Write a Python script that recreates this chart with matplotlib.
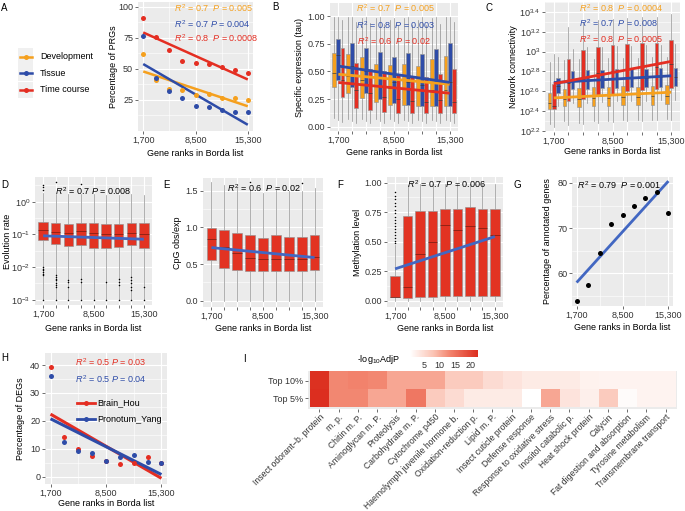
import numpy as np
import matplotlib
matplotlib.use('Agg')
import matplotlib.pyplot as plt
from matplotlib.colors import LinearSegmentedColormap
from matplotlib.lines import Line2D
from matplotlib.patches import Rectangle
from matplotlib.ticker import FixedLocator, FixedFormatter, NullFormatter

plt.rcParams['font.family'] = ['Liberation Sans', 'DejaVu Sans']
plt.rcParams['font.size'] = 6.5
plt.rcParams['mathtext.fontset'] = 'custom'
plt.rcParams['mathtext.rm'] = 'Liberation Sans'
plt.rcParams['mathtext.it'] = 'Liberation Sans:italic'

W, H = 685, 511
ORANGE = '#F5A01E'
BLUE = '#2E4CA8'
RED = '#E42E22'
BOXRED = '#E23322'
FITBLUE = '#4267C2'
PANEL = '#EBEBEB'
GRAY = '#8f8f8f'
TXT = '#333333'

# gene rank bins (x axis of A-H)
ranks = [1700, 3400, 5100, 6800, 8500, 10200, 11900, 13600, 15300]
shown_ranks = [1700, 8500, 15300]

# A: percentage of PRGs
prg_dev = [61.9, 40.9, 34.2, 32.8, 28.8, 29.6, 26.3, 26.3, 25.0]
prg_tissue = [76.4, 43.0, 32.3, 27.0, 20.0, 19.7, 16.7, 15.3, 15.0]
prg_time = [91.0, 75.5, 65.0, 56.5, 54.5, 54.0, 51.6, 49.5, 46.8]

# B: specific expression (tau) box stats
tau_dev_q1 = [0.36, 0.30, 0.26, 0.22, 0.20, 0.20, 0.19, 0.19, 0.19]
tau_dev_med = [0.49, 0.46, 0.42, 0.38, 0.35, 0.35, 0.33, 0.33, 0.33]
tau_dev_q3 = [0.67, 0.66, 0.63, 0.57, 0.56, 0.57, 0.55, 0.61, 0.64]
tau_dev_lo = [0.08, 0.07, 0.07, 0.07, 0.07, 0.06, 0.06, 0.06, 0.06]
tau_dev_hi = [0.99, 0.99, 0.98, 0.98, 0.97, 0.98, 0.97, 0.98, 0.99]
tau_dev_mean = [0.48, 0.47, 0.45, 0.43, 0.42, 0.42, 0.40, 0.40, 0.39]
tau_tis_q1 = [0.42, 0.36, 0.30, 0.25, 0.21, 0.20, 0.19, 0.19, 0.19]
tau_tis_med = [0.65, 0.55, 0.50, 0.45, 0.40, 0.40, 0.38, 0.40, 0.40]
tau_tis_q3 = [0.79, 0.76, 0.71, 0.68, 0.63, 0.67, 0.66, 0.70, 0.76]
tau_tis_lo = [0.06, 0.05, 0.05, 0.05, 0.05, 0.05, 0.05, 0.05, 0.05]
tau_tis_hi = [0.99, 0.99, 0.99, 0.99, 0.98, 0.99, 0.99, 0.99, 0.99]
tau_tis_mean = [0.56, 0.54, 0.51, 0.48, 0.45, 0.46, 0.43, 0.43, 0.41]
tau_time_q1 = [0.27, 0.17, 0.15, 0.13, 0.12, 0.12, 0.12, 0.12, 0.12]
tau_time_med = [0.42, 0.33, 0.30, 0.27, 0.25, 0.23, 0.22, 0.24, 0.22]
tau_time_q3 = [0.71, 0.58, 0.52, 0.50, 0.47, 0.46, 0.45, 0.48, 0.52]
tau_time_lo = [0.04, 0.03, 0.03, 0.03, 0.03, 0.03, 0.03, 0.03, 0.03]
tau_time_hi = [0.97, 0.95, 0.94, 0.93, 0.92, 0.92, 0.92, 0.93, 0.95]
tau_time_mean = [0.43, 0.38, 0.36, 0.35, 0.34, 0.34, 0.33, 0.32, 0.31]

# C: network connectivity (log10 values)
con_dev_q1 = [2.42, 2.45, 2.44, 2.45, 2.45, 2.46, 2.46, 2.46, 2.47]
con_dev_med = [2.48, 2.52, 2.52, 2.53, 2.53, 2.54, 2.54, 2.55, 2.55]
con_dev_q3 = [2.58, 2.62, 2.63, 2.64, 2.64, 2.65, 2.64, 2.65, 2.66]
con_dev_lo = [2.27, 2.30, 2.28, 2.30, 2.30, 2.31, 2.31, 2.31, 2.32]
con_dev_hi = [2.90, 2.92, 2.93, 2.93, 2.94, 2.94, 2.94, 2.95, 2.95]
con_dev_mean = [2.52, 2.55, 2.55, 2.56, 2.57, 2.56, 2.58, 2.58, 2.59]
con_time_q1 = [2.42, 2.50, 2.52, 2.55, 2.57, 2.60, 2.61, 2.62, 2.63]
con_time_med = [2.45, 2.68, 2.72, 2.78, 2.80, 2.82, 2.84, 2.85, 2.88]
con_time_q3 = [2.67, 2.93, 3.02, 3.05, 3.07, 3.08, 3.09, 3.09, 3.12]
con_time_lo = [2.24, 2.26, 2.27, 2.28, 2.29, 2.30, 2.30, 2.31, 2.31]
con_time_hi = [2.98, 3.25, 3.30, 3.32, 3.33, 3.34, 3.35, 3.35, 3.38]
con_time_mean = [2.62, 2.72, 2.76, 2.79, 2.80, 2.82, 2.84, 2.86, 2.89]
con_tis_q1 = [2.58, 2.62, 2.62, 2.63, 2.63, 2.64, 2.64, 2.64, 2.65]
con_tis_med = [2.65, 2.70, 2.71, 2.72, 2.72, 2.73, 2.73, 2.74, 2.74]
con_tis_q3 = [2.73, 2.80, 2.81, 2.81, 2.82, 2.82, 2.82, 2.83, 2.83]
con_tis_lo = [2.45, 2.48, 2.48, 2.49, 2.50, 2.50, 2.50, 2.51, 2.51]
con_tis_hi = [2.95, 3.03, 3.05, 3.05, 3.06, 3.06, 3.07, 3.07, 3.08]
con_tis_mean = [2.68, 2.70, 2.71, 2.72, 2.72, 2.73, 2.74, 2.74, 2.76]

# D: evolution rate (log10 values)
evo_q1 = [-1.16, -1.29, -1.36, -1.34, -1.41, -1.41, -1.39, -1.34, -1.41]
evo_med = [-0.86, -0.92, -0.96, -0.91, -0.96, -0.98, -0.98, -0.96, -0.98]
evo_q3 = [-0.62, -0.64, -0.67, -0.65, -0.65, -0.67, -0.67, -0.64, -0.65]
evo_lo = [-3.0, -3.0, -3.0, -3.0, -3.0, -3.0, -3.0, -3.0, -3.0]
evo_hi = [0.28, 0.25, 0.22, 0.24, 0.22, 0.20, 0.21, 0.23, 0.21]
evo_fliers = [[0.37, 0.45, 0.52, -2.0, -2.05, -2.1, -2.15, -2.2, -2.25, -3.0],
              [0.6, -2.25, -2.3, -2.35, -2.4, -2.5, -2.55, -2.6, -3.0],
              [-2.4, -2.45, -2.6, -3.0],
              [0.55, -2.35, -2.45, -3.0],
              [-3.0],
              [-2.45, -3.0],
              [-2.35, -2.45, -2.55, -3.0],
              [-2.3, -2.4, -2.5, -2.6, -2.7, -3.0],
              [-2.6, -3.0]]
evo_mean = [-0.98, -1.07, -1.12, -1.08, -1.12, -1.13, -1.12, -1.10, -1.14]

# E: CpG obs/exp
cpg_q1 = [0.55, 0.44, 0.42, 0.405, 0.405, 0.405, 0.41, 0.41, 0.42]
cpg_med = [0.84, 0.73, 0.65, 0.58, 0.565, 0.565, 0.57, 0.565, 0.59]
cpg_q3 = [0.99, 0.97, 0.93, 0.90, 0.85, 0.89, 0.865, 0.865, 0.90]
cpg_lo = [0.0, 0.0, 0.0, 0.0, 0.0, 0.0, 0.0, 0.0, 0.0]
cpg_hi = [1.62, 1.58, 1.55, 1.52, 1.47, 1.53, 1.50, 1.50, 1.54]
cpg_fliers = [[], [], [], [1.62], [], [], [], [1.60], []]
cpg_mean = [0.78, 0.71, 0.67, 0.64, 0.62, 0.63, 0.62, 0.62, 0.62]

# F: methylation level
met_q1 = [0.03, 0.025, 0.03, 0.03, 0.04, 0.04, 0.04, 0.04, 0.04]
met_med = [0.03, 0.12, 0.40, 0.50, 0.64, 0.60, 0.63, 0.62, 0.56]
met_q3 = [0.21, 0.72, 0.76, 0.76, 0.78, 0.78, 0.79, 0.78, 0.78]
met_lo = [0.0, 0.0, 0.0, 0.0, 0.0, 0.0, 0.0, 0.0, 0.0]
met_hi = [0.47, 0.98, 0.99, 0.99, 0.99, 0.99, 0.99, 0.99, 0.99]
met_fliers = [[0.49, 0.51, 0.53, 0.56, 0.58, 0.61, 0.63, 0.66, 0.68, 0.71,
               0.74, 0.77, 0.80, 0.83, 0.86, 0.89, 0.92], [], [], [], [], [], [], [], []]
met_mean = [0.17, 0.30, 0.38, 0.43, 0.47, 0.46, 0.48, 0.48, 0.49]

# G: percentage of annotated genes
annotated = [53.8, 57.5, 64.5, 71.0, 72.9, 75.0, 76.6, 78.0, 73.4]

# H: percentage of DEGs
deg_brain = [39.2, 14.3, 10.1, 7.6, 5.7, 4.5, 5.0, 6.9, 5.0]
deg_pronotum = [36.1, 12.4, 9.2, 8.4, 5.7, 6.9, 7.8, 5.4, 5.0]

# I: enrichment heatmap
terms = ['Insect odorant\u2212b. protein', 'm. p.', 'Chitin m. P.', 'Aminoglycan m. P.',
         'Proteolysis', 'Carbohydrate m. P.', 'Cytochrome p450',
         'Haemolymph juvenile hormone b.', 'Oxidation-reduction p.', 'Lipid m. P.',
         'Insect cuticle protein', 'Defense response', 'Response to oxidative stress',
         'Inositol catabolic p.', 'Heat shock protein', 'Calycin',
         'Fat digestion and absorption', 'Tyrosine metabolism', 'Transmembrane transport']
sets = ['Top 10%', 'Top 5%']
adjp_top10 = [22.0, 13.0, 13.5, 13.0, 10.5, 10.5, 10.5, 7.0, 7.0, 5.0,
              4.0, 3.0, 3.0, 3.0, 2.2, 2.0, 2.0, 2.0, 2.0]
adjp_top5 = [22.4, 13.0, 13.0, 10.5, 10.5, 14.5, 7.0, 5.0, 3.0, 3.0,
             3.0, 0.5, 10.5, 4.0, 2.5, 7.0, 1.0, 2.0, 2.0]

fig = plt.figure(figsize=(W / 100, H / 100), dpi=100)
step = ranks[1] - ranks[0]
xr = np.array(ranks, dtype=float)


def make_ax(l, t, r, b):
    ax = fig.add_axes([l / W, 1 - b / H, (r - l) / W, (b - t) / H])
    ax.set_facecolor(PANEL)
    for s in ax.spines.values():
        s.set_visible(False)
    ax.tick_params(which='major', length=2, width=0.5, color=TXT, labelcolor=TXT,
                   labelsize=6.5, pad=1.5)
    ax.tick_params(which='minor', length=0)
    ax.set_axisbelow(True)
    ax.grid(which='major', color='white', lw=0.8)
    ax.grid(which='minor', color='white', lw=0.4)
    return ax


def x_axis(ax, all_ticks, expand):
    ax.set_xlim(ranks[0] - expand * step, ranks[-1] + expand * step)
    if all_ticks:
        ax.set_xticks(ranks)
        ax.set_xticklabels([f'{r:,}' if r in shown_ranks else '' for r in ranks])
    else:
        ax.set_xticks(shown_ranks)
        ax.set_xticklabels([f'{r:,}' for r in shown_ranks])
        ax.xaxis.set_minor_locator(FixedLocator([ranks[2], ranks[6]]))


def labels(ax, box, xlab, ylab, xlab_y, ylab_x):
    l, t, r, b = box
    if xlab:
        ax.set_xlabel(xlab, fontsize=6.5)
        ax.xaxis.label.set_va('center')
        ax.xaxis.set_label_coords(0.5, (b - xlab_y) / (b - t))
    ax.set_ylabel(ylab, fontsize=6.5)
    ax.yaxis.label.set_va('center')
    ax.yaxis.set_label_coords((ylab_x - l) / (r - l), 0.5)


def log_ticks(ax, exps, fmt, minor_off):
    ax.yaxis.set_major_locator(FixedLocator([10.0 ** e for e in exps]))
    ax.yaxis.set_major_formatter(FixedFormatter([fmt % e for e in exps]))
    ax.yaxis.set_minor_locator(FixedLocator([10.0 ** (e + minor_off) for e in exps]))
    ax.yaxis.set_minor_formatter(NullFormatter())


def stat_text(ax, x, y, s, color='black', ha='center'):
    ax.text(x, y, s, transform=ax.transAxes, color=color, ha=ha, va='center', fontsize=6.5)


def rt(r2, p, sep='  '):
    return r'$\mathit{R}^2$ = ' + r2 + sep + r'$\mathit{P}$ = ' + p


def boxes(ax, q1, med, q3, lo, hi, pos, width, color, fliers=None, log=False,
          medcolor='#3a3a3a', edge=GRAY):
    f = (lambda v: 10 ** np.asarray(v, dtype=float)) if log else (lambda v: np.asarray(v, dtype=float))
    stats = []
    for i in range(len(q1)):
        fl = fliers[i] if fliers is not None else []
        stats.append(dict(q1=f(q1[i]), med=f(med[i]), q3=f(q3[i]), whislo=f(lo[i]),
                          whishi=f(hi[i]), fliers=f(fl) if len(fl) else np.array([])))
    ax.bxp(stats, positions=pos, widths=width, patch_artist=True, showcaps=False,
           showfliers=True, manage_ticks=False,
           boxprops=dict(facecolor=color, edgecolor=edge, lw=0.4),
           whiskerprops=dict(color=GRAY, lw=0.5),
           medianprops=dict(color=medcolor, lw=0.6, alpha=0.8),
           flierprops=dict(marker='o', ms=1.1, mfc='black', mec='none'))


def fit_line(ax, y, color, lw=2.0, log=False):
    k, c = np.polyfit(xr, y, 1)
    xs = np.array([ranks[0], ranks[-1]], dtype=float)
    ys = k * xs + c
    ax.plot(xs, 10 ** ys if log else ys, color=color, lw=lw, solid_capstyle='butt', zorder=4)


# ---------------- A
boxA = (138, 2, 253, 131)
ax = make_ax(*boxA)
for y, col in [(prg_dev, ORANGE), (prg_tissue, BLUE), (prg_time, RED)]:
    fit_line(ax, y, col, lw=1.8)
    ax.plot(ranks, y, 'o', color=col, ms=3.6, mec='none', zorder=5)
x_axis(ax, False, 0.4)
ax.set_ylim(0, 104)
ax.set_yticks([25, 50, 75, 100])
ax.yaxis.set_minor_locator(FixedLocator([12.5, 37.5, 62.5, 87.5]))
labels(ax, boxA, 'Gene ranks in Borda list', 'Percentage of PRGs', 153, 113)
stat_text(ax, 0.31, 0.955, rt('0.7', '0.005'), ORANGE, 'left')
stat_text(ax, 0.31, 0.83, rt('0.7', '0.004', ' '), BLUE, 'left')
stat_text(ax, 0.31, 0.72, rt('0.8', '0.0008'), RED, 'left')

# legend for A
for yc, col, name in [(56.7, ORANGE, 'Development'), (73.3, BLUE, 'Tissue'), (90, RED, 'Time course')]:
    fig.patches.append(Rectangle((18.3 / W, 1 - (yc + 8.2) / H), 15 / W, 16.4 / H,
                                 transform=fig.transFigure, facecolor='#F0F0F0', edgecolor='none'))
    fig.add_artist(Line2D([19.5 / W, 32 / W], [1 - yc / H] * 2, color=col, lw=1.8))
    fig.add_artist(Line2D([25.8 / W], [1 - yc / H], color=col, marker='o', ms=3.6, mec='none'))
    fig.text(40 / W, 1 - yc / H, name, va='center', fontsize=6.5)

# ---------------- B
boxB = (330, 3, 458, 131)
ax = make_ax(*boxB)
bw = 0.27 * step
boxes(ax, tau_dev_q1, tau_dev_med, tau_dev_q3, tau_dev_lo, tau_dev_hi, xr - 0.29 * step, bw, ORANGE)
boxes(ax, tau_tis_q1, tau_tis_med, tau_tis_q3, tau_tis_lo, tau_tis_hi, xr, bw, BLUE)
boxes(ax, tau_time_q1, tau_time_med, tau_time_q3, tau_time_lo, tau_time_hi, xr + 0.29 * step, bw, RED)
fit_line(ax, tau_dev_mean, ORANGE)
fit_line(ax, tau_tis_mean, BLUE)
fit_line(ax, tau_time_mean, RED)
x_axis(ax, True, 0.6)
ax.set_ylim(-0.04, 1.12)
ax.set_yticks([0, 0.25, 0.5, 0.75, 1.0])
ax.set_yticklabels(['0.00', '0.25', '0.50', '0.75', '1.00'])
ax.yaxis.set_minor_locator(FixedLocator([0.125, 0.375, 0.625, 0.875]))
labels(ax, boxB, 'Gene ranks in Borda list', 'Specific expression (tau)', 152, 300)
stat_text(ax, 0.51, 0.96, rt('0.7', '0.005'), ORANGE)
stat_text(ax, 0.51, 0.83, rt('0.8', '0.003'), BLUE)
stat_text(ax, 0.50, 0.70, rt('0.6', '0.02'), RED)

# ---------------- C
boxC = (545, 2, 680, 132)
ax = make_ax(*boxC)
ax.set_yscale('log')
bw = 0.24 * step
boxes(ax, con_dev_q1, con_dev_med, con_dev_q3, con_dev_lo, con_dev_hi, xr - 0.28 * step, bw, ORANGE, log=True)
boxes(ax, con_time_q1, con_time_med, con_time_q3, con_time_lo, con_time_hi, xr, bw, RED, log=True)
boxes(ax, con_tis_q1, con_tis_med, con_tis_q3, con_tis_lo, con_tis_hi, xr + 0.28 * step, bw, BLUE, log=True)
fit_line(ax, con_dev_mean, ORANGE, log=True)
fit_line(ax, con_tis_mean, BLUE, log=True)
fit_line(ax, con_time_mean, RED, log=True)
x_axis(ax, True, 0.6)
ax.set_ylim(10 ** 2.19, 10 ** 3.5)
log_ticks(ax, [2.2, 2.4, 2.6, 2.8, 3.0, 3.2, 3.4], r'$10^{%g}$', 0.1)
labels(ax, boxC, 'Gene ranks in Borda list', 'Network connectivity', 152, 513)
stat_text(ax, 0.25, 0.954, rt('0.8', '0.0004'), ORANGE, 'left')
stat_text(ax, 0.25, 0.836, rt('0.7', '0.008'), BLUE, 'left')
stat_text(ax, 0.25, 0.715, rt('0.8', '0.0005'), RED, 'left')

# ---------------- D
boxD = (35, 177, 152, 305)
ax = make_ax(*boxD)
ax.set_yscale('log')
boxes(ax, evo_q1, evo_med, evo_q3, evo_lo, evo_hi, xr, 0.75 * step, BOXRED, evo_fliers,
      log=True, medcolor='#6e1a10')
fit_line(ax, evo_mean, FITBLUE, log=True)
x_axis(ax, True, 0.65)
ax.set_ylim(10 ** -3.16, 10 ** 0.755)
log_ticks(ax, [-3, -2, -1, 0], r'$10^{%d}$', 0.5)
labels(ax, boxD, 'Gene ranks in Borda list', 'Evolution rate', 328, 8)
stat_text(ax, 0.5, 0.893, rt('0.7', '0.008', ' '))

# ---------------- E
boxE = (203, 178, 323, 307)
ax = make_ax(*boxE)
boxes(ax, cpg_q1, cpg_med, cpg_q3, cpg_lo, cpg_hi, xr, 0.75 * step, BOXRED, cpg_fliers,
      medcolor='#6e1a10')
fit_line(ax, cpg_mean, FITBLUE)
x_axis(ax, True, 0.65)
ax.set_ylim(-0.086, 1.674)
ax.set_yticks([0, 0.5, 1.0, 1.5])
ax.yaxis.set_minor_locator(FixedLocator([0.25, 0.75, 1.25]))
labels(ax, boxE, 'Gene ranks in Borda list', 'CpG obs/exp', 328, 178)
stat_text(ax, 0.51, 0.92, rt('0.6', '0.02'))

# ---------------- F
boxF = (387, 177, 503, 307)
ax = make_ax(*boxF)
boxes(ax, met_q1, met_med, met_q3, met_lo, met_hi, xr, 0.77 * step, BOXRED, met_fliers,
      medcolor='#6e1a10')
fit_line(ax, met_mean, FITBLUE)
x_axis(ax, True, 0.65)
ax.set_ylim(-0.053, 1.048)
ax.set_yticks([0, 0.25, 0.5, 0.75, 1.0])
ax.set_yticklabels(['0.00', '0.25', '0.50', '0.75', '1.00'])
ax.yaxis.set_minor_locator(FixedLocator([0.125, 0.375, 0.625, 0.875]))
labels(ax, boxF, 'Gene ranks in Borda list', 'Methylation level', 328, 358)
stat_text(ax, 0.51, 0.946, rt('0.7', '0.006'))

# ---------------- G
boxG = (572, 177, 673, 306)
ax = make_ax(*boxG)
fit_line(ax, annotated, FITBLUE)
ax.plot(ranks, annotated, 'o', color='black', ms=3.6, mec='none', zorder=5)
x_axis(ax, False, 0.4)
ax.set_ylim(52.8, 81.3)
ax.set_yticks([60, 70, 80])
ax.yaxis.set_minor_locator(FixedLocator([55, 65, 75]))
labels(ax, boxG, 'Gene ranks in Borda list', 'Percentage of annotated genes', 328, 548)
stat_text(ax, 0.465, 0.94, rt('0.79', '0.001'))

# ---------------- H
boxH = (45, 353, 167, 484)
ax = make_ax(*boxH)
for y, col in [(deg_brain, RED), (deg_pronotum, BLUE)]:
    fit_line(ax, y, col, lw=2.2)
    ax.plot(ranks, y, 'o', color=col, ms=3.6, mec='none', zorder=5)
x_axis(ax, False, 0.4)
ax.set_ylim(-2.6, 44.3)
ax.set_yticks([0, 10, 20, 30, 40])
ax.yaxis.set_minor_locator(FixedLocator([5, 15, 25, 35]))
labels(ax, boxH, 'Gene ranks in Borda list', 'Percentage of DEGs', 504, 21)
stat_text(ax, 0.54, 0.93, rt('0.5', '0.03', ' '), RED)
stat_text(ax, 0.54, 0.80, rt('0.5', '0.04', ' '), BLUE)
for yc, col, name in [(402.7, RED, 'Brain_Hou'), (419.3, BLUE, 'Pronotum_Yang')]:
    fig.add_artist(Line2D([77 / W, 95 / W], [1 - yc / H] * 2, color=col, lw=2.0))
    fig.add_artist(Line2D([86 / W], [1 - yc / H], color=col, marker='o', ms=3.6, mec='none'))
    fig.text(97.5 / W, 1 - yc / H, name, va='center', fontsize=6.5)

# ---------------- I
boxI = (308, 370.5, 677, 408.5)
ax = make_ax(*boxI)
ax.grid(False)
cmap = LinearSegmentedColormap.from_list('wr', [(0, '#FFFFFF'), (0.35, '#FBC2B2'),
                                               (0.6, '#F2806A'), (1, '#DC2E1F')])
mat = np.array([adjp_top10, adjp_top5])
im = ax.imshow(mat, cmap=cmap, aspect='auto', vmin=mat.min(), vmax=mat.max(), zorder=2)
ax.set_xlim(-0.59, len(terms) - 0.41)
ax.set_ylim(1.56, -0.56)
ax.set_xticks(range(len(terms)))
ax.set_xticklabels(terms, rotation=45, ha='right', rotation_mode='anchor', fontsize=6.2)
ax.tick_params(axis='x', pad=1)
ax.set_yticks([0, 1])
ax.set_yticklabels(sets)

cax = fig.add_axes([410 / W, 1 - 356.5 / H, 68 / W, 6.5 / H])
cb = fig.colorbar(im, cax=cax, orientation='horizontal', ticks=[5, 10, 15, 20])
cb.outline.set_visible(False)
cax.tick_params(length=0, pad=3, labelsize=6.5, labelcolor=TXT)
fig.text(357 / W, 1 - 359 / H, r'-log$_{10}$AdjP', va='center', ha='left', fontsize=6.5)

# panel letters
for letter, px, py in [('A', 1, 8), ('B', 272, 7), ('C', 485, 8), ('D', 1, 185),
                       ('E', 163, 185), ('F', 337, 185), ('G', 514, 185),
                       ('H', 1, 358), ('I', 243, 359)]:
    fig.text(px / W, 1 - py / H, letter, fontsize=7, va='center', ha='left')

fig.savefig('out.png', dpi=100)
